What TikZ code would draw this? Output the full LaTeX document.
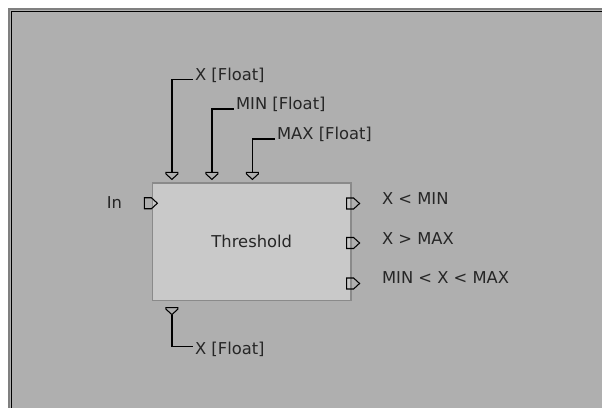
\documentclass[tikz,border=0pt]{standalone}
\usepackage{fontspec}
\setmainfont{DejaVu Sans}
\usepackage{xcolor}
\usetikzlibrary{calc}
\definecolor{panelgray}{HTML}{AFAFAF}
\definecolor{blockgray}{HTML}{C9C9C9}
\definecolor{edgegray}{HTML}{8A8A8A}

\begin{document}
\begin{tikzpicture}[x=0.02cm, y=-0.02cm, every node/.style={font=\fontsize{9.3}{11}\selectfont, text=black!85, inner sep=1pt},
    wire/.style={line width=0.75pt}, portline/.style={line width=0.6pt}]
  \useasboundingbox (0,0) rectangle (602,408);
  \fill[white] (0,0) rectangle (602,408);
  \fill[panelgray] (9,9) rectangle (602,408);
  \draw[gray, line width=0.6pt] (9,408) -- (9,9) -- (602,9);
  \draw[black, line width=1.1pt] (11.5,408) -- (11.5,11.5) -- (602,11.5);

  \node[draw=edgegray, line width=0.7pt, fill=blockgray, minimum width=3.97cm, minimum height=2.35cm] (thr) at (251.75,241.75) {Threshold};

  \coordinate (pX) at ($(thr.north west)+(20,-10)$);
  \coordinate (pMin) at ($(thr.north west)+(60,-10)$);
  \coordinate (pMax) at ($(thr.north west)+(100.5,-10)$);
  \coordinate (pXout) at ($(thr.south west)+(20,6.5)$);
  \coordinate (pIn) at ($(thr.west)+(-7.5,-38.5)$);
  \coordinate (pLt) at ($(thr.east)+(-5,-38.25)$);
  \coordinate (pGt) at ($(thr.east)+(-5,1.25)$);
  \coordinate (pMid) at ($(thr.east)+(-5,41.75)$);

  \foreach \p in {pX,pMin,pMax,pXout}
    \draw[portline] ($(\p)+(-6,0)$) -- ++(12,0) -- ++(0,1.5) -- ++(-6,5.5) -- ++(-6,-5.5) -- cycle;
  \foreach \p in {pIn,pLt,pGt,pMid}
    \draw[portline] ($(\p)+(0,-5.5)$) -- ++(7,0) -- ++(6,5.5) -- ++(-6,5.5) -- ++(-7,0) -- cycle;

  \node[anchor=west] (xlbl) at (193,75) {X [Float]};
  \node[anchor=west] (minlbl) at (234,104) {MIN [Float]};
  \node[anchor=west] (maxlbl) at (275,134) {MAX [Float]};
  \node[anchor=west] (xbot) at (193,349.5) {X [Float]};
  \node (inlbl) at (114.5,203) {In};
  \node[anchor=west] (ltlbl) at (380,198.5) {X < MIN};
  \node[anchor=west] (gtlbl) at (380,238.5) {X > MAX};
  \node[anchor=west] (midlbl) at (380,277.5) {MIN < X < MAX};

  \draw[wire] ($(xlbl.west)+(0,4.5)$) -| (pX);
  \draw[wire] ($(minlbl.west)+(0,5)$) -| (pMin);
  \draw[wire] ($(maxlbl.west)+(0,5)$) -| (pMax);
  \draw[wire] ($(pXout)+(0,7)$) |- ($(xbot.west)+(0,-3)$);
\end{tikzpicture}
\end{document}
